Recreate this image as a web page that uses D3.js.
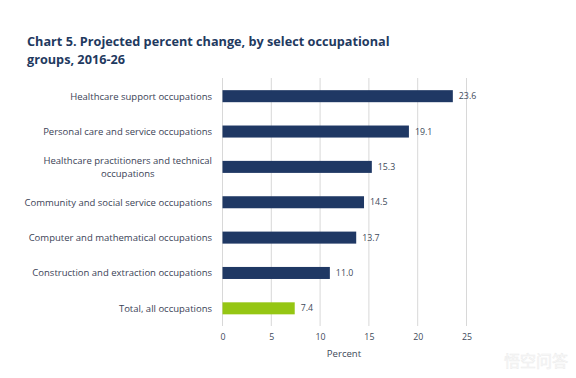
<!DOCTYPE html>
<html><head><meta charset="utf-8">
<script src="https://cdn.jsdelivr.net/npm/d3@7"></script>
<style>body{margin:0;background:#fff}svg{display:block}</style>
</head><body>
<svg id="c" width="576" height="378"></svg>
<script>
const categories = [
  "Healthcare support occupations",
  "Personal care and service occupations",
  "Healthcare practitioners and technical occupations",
  "Community and social service occupations",
  "Computer and mathematical occupations",
  "Construction and extraction occupations",
  "Total, all occupations"
];
const values = [23.6, 19.1, 15.3, 14.5, 13.7, 11.0, 7.4];
const labelLines = [
  ["Healthcare support occupations"],
  ["Personal care and service occupations"],
  ["Healthcare practitioners and technical", "occupations"],
  ["Community and social service occupations"],
  ["Computer and mathematical occupations"],
  ["Construction and extraction occupations"],
  ["Total, all occupations"]
];
const tickValues = [0, 5, 10, 15, 20, 25];
const titleLines = ["Chart 5. Projected percent change, by select occupational", "groups, 2016-26"];

const svg = d3.select("#c");
const font = "'Open Sans', Lato, sans-serif";
const x = d3.scaleLinear().domain([0, 25]).range([222.5, 466.5]);
const y = d3.scaleBand().domain(categories).range([78.5, 326]).paddingInner(0.66).paddingOuter(0.33);

// title
svg.append("g").selectAll("text").data(titleLines).join("text")
  .attr("x", 27).attr("y", (d, i) => 46 + i * 17.5)
  .attr("font-family", font).attr("font-weight", 700).attr("font-size", 12.7)
  .attr("fill", "#1f3a5f").text(d => d);

// grid
svg.append("g").selectAll("line").data(tickValues).join("line")
  .attr("x1", d => x(d)).attr("x2", d => x(d))
  .attr("y1", 78).attr("y2", 326)
  .attr("stroke", "#d8d8d8").attr("stroke-width", 1);

// bars
svg.append("g").selectAll("rect").data(values).join("rect")
  .attr("x", x(0)).attr("y", (d, i) => y(categories[i]))
  .attr("width", d => x(d) - x(0)).attr("height", y.bandwidth())
  .attr("fill", (d, i) => i === values.length - 1 ? "#95c613" : "#1f3864");

// value labels
svg.append("g").selectAll("text").data(values).join("text")
  .attr("x", d => x(d) + 6).attr("y", (d, i) => y(categories[i]) + y.bandwidth() / 2)
  .attr("dy", "0.35em").attr("font-family", font).attr("font-size", 8.8)
  .attr("fill", "#404a5a").text(d => d.toFixed(1));

// category labels
const lab = svg.append("g").selectAll("text").data(labelLines).join("text")
  .attr("font-family", font).attr("font-size", 9.5).attr("fill", "#3a4256")
  .attr("text-anchor", "middle");
lab.each(function (lines, i) {
  const t = d3.select(this);
  const cy = y(categories[i]) + y.bandwidth() / 2;
  const lh = 13;
  t.selectAll("tspan").data(lines).join("tspan").text(d => d);
  let w = 0;
  t.selectAll("tspan").each(function () { w = Math.max(w, this.getComputedTextLength()); });
  const cx = 212 - w / 2;
  t.selectAll("tspan").attr("x", cx)
    .attr("y", (d, j) => cy + (j - (lines.length - 1) / 2) * lh)
    .attr("dy", "0.35em");
});

// axis
const ax = svg.append("g").attr("transform", "translate(0,326)")
  .call(d3.axisBottom(x).tickValues(tickValues).tickSize(0).tickPadding(8));
ax.select(".domain").remove();
ax.selectAll("text").attr("font-family", font).attr("font-size", 8.8).attr("fill", "#404a5a");

svg.append("text").attr("x", 344).attr("y", 357).attr("text-anchor", "middle")
  .attr("font-family", font).attr("font-size", 9.6).attr("fill", "#404a5a").text("Percent");

// watermark
svg.append("text").attr("x", 568).attr("y", 367).attr("text-anchor", "end")
  .attr("font-family", "'Noto Sans CJK SC', sans-serif").attr("font-size", 16)
  .attr("fill", "#fbfbfb").attr("stroke", "#ececec").attr("stroke-width", 0.5).text("悟空问答");
</script>
</body></html>
